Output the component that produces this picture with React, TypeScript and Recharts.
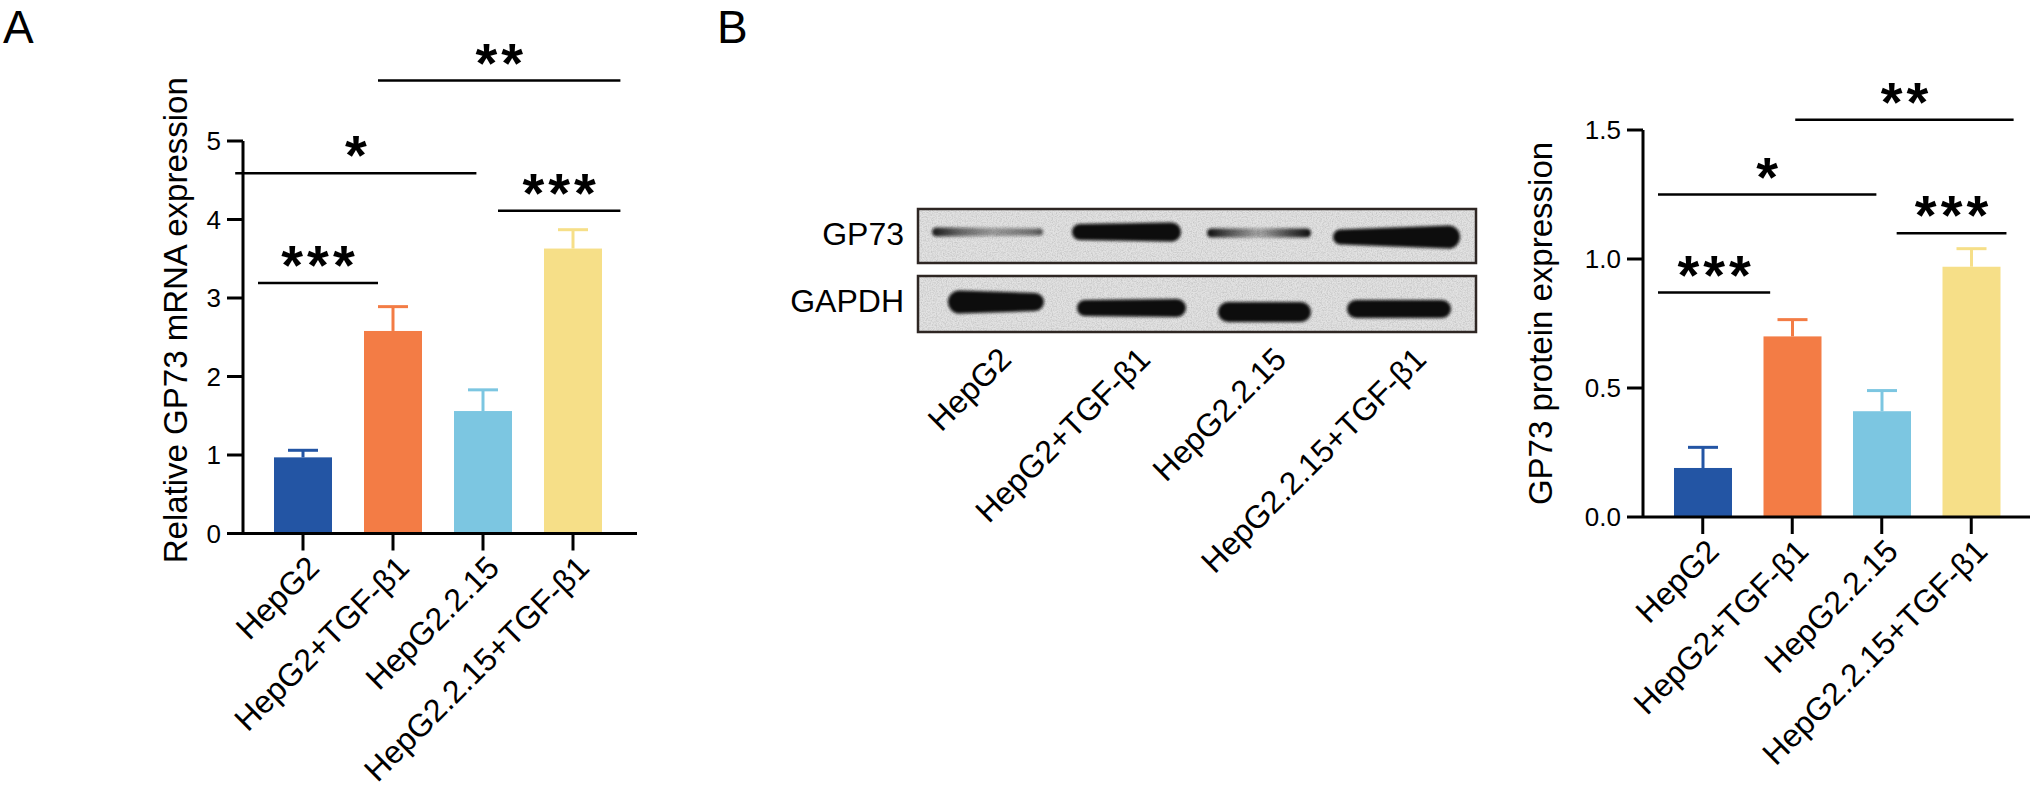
import { BarChart, Bar, XAxis, YAxis, ReferenceLine } from "recharts";

// groups on the x axis of both bar charts and under the blot
const categories = ["HepG2", "HepG2+TGF-β1", "HepG2.2.15", "HepG2.2.15+TGF-β1"];

// A: relative GP73 mRNA expression (mean, upper SD)
const mrnaMean = [0.97, 2.58, 1.56, 3.63];
const mrnaErr = [0.09, 0.31, 0.27, 0.24];
const mrnaTicks = [0, 1, 2, 3, 4, 5];

// B: GP73 protein expression (mean, upper SD)
const proteinMean = [0.19, 0.7, 0.41, 0.97];
const proteinErr = [0.08, 0.065, 0.08, 0.07];
const proteinTicks = [0, 0.5, 1.0, 1.5];

// significance brackets: group index from/to (fractional), height in data units
const mrnaSig = [
  { from: 0, to: 1.0, y: 3.19, mark: "***" },
  { from: -0.19, to: 1.82, y: 4.59, mark: "*" },
  { from: 2, to: 3.02, y: 4.11, mark: "***" },
  { from: 1.0, to: 3.02, y: 5.77, mark: "**" },
];
const proteinSig = [
  { from: 0, to: 0.94, y: 0.87, mark: "***" },
  { from: 0, to: 1.83, y: 1.25, mark: "*" },
  { from: 2, to: 2.92, y: 1.1, mark: "***" },
  { from: 1.15, to: 2.98, y: 1.54, mark: "**" },
];

const barColors = ["#2355a4", "#f37c45", "#7cc6e1", "#f6df88"];
const FONT = '"Liberation Sans", Arial, Helvetica, sans-serif';

const mrnaRows = categories.map((name, i) => ({ name, mean: mrnaMean[i], err: mrnaErr[i] }));
const proteinRows = categories.map((name, i) => ({ name, mean: proteinMean[i], err: proteinErr[i] }));

// bar with an upper-only error bar in the same colour
function BarWithErr(props: any) {
  const { x, y, width, height, index, payload } = props;
  const color = barColors[index % barColors.length];
  const perUnit = payload.mean ? height / payload.mean : 0;
  const top = y - payload.err * perUnit;
  const cx = x + width / 2;
  return (
    <g>
      <rect x={x} y={y} width={width} height={height} fill={color} />
      <line x1={cx} x2={cx} y1={y} y2={top} stroke={color} strokeWidth={3} />
      <line x1={cx - 15} x2={cx + 15} y1={top} y2={top} stroke={color} strokeWidth={3} />
    </g>
  );
}

function StarLabel(props: any) {
  const vb = props.viewBox || {};
  const cx = (vb.x ?? 0) + (vb.width ?? 0) / 2;
  return (
    <text
      x={cx + 2}
      y={(vb.y ?? 0) + 1}
      textAnchor="middle"
      fontFamily={FONT}
      fontWeight="bold"
      fontSize={56}
      letterSpacing={4}
      fill="#000"
    >
      {props.value}
    </text>
  );
}

// 45° label whose top-right corner sits at (x, y)
function SlantText({ x, y, text }: any) {
  return (
    <text
      x={x}
      y={y}
      transform={`rotate(-45 ${x} ${y})`}
      textAnchor="end"
      dy="0.71em"
      fontFamily={FONT}
      fontSize={32}
      fill="#000"
    >
      {text}
    </text>
  );
}

function CatTick(props: any) {
  const { x, y, payload } = props;
  return <SlantText x={x + 2} y={y} text={payload.value} />;
}

function YTitle({ viewBox, text, base, dy }: any) {
  const x = viewBox.x + base;
  const y = viewBox.y + viewBox.height / 2 + dy;
  return (
    <text
      x={x}
      y={y}
      transform={`rotate(-90 ${x} ${y})`}
      textAnchor="middle"
      fontFamily={FONT}
      fontSize={33}
      fill="#000"
    >
      {text}
    </text>
  );
}

const axisStroke = { stroke: "#000", strokeWidth: 3 };

function SigChart({ rows, sig, ticks, domain, title, titleBase, titleDy, width, height, margin, yWidth, pad, fmt }: any) {
  return (
    <BarChart width={width} height={height} data={rows} margin={margin}>
      <XAxis
        xAxisId="cat"
        dataKey="name"
        height={200}
        padding={pad}
        axisLine={axisStroke}
        tickLine={axisStroke}
        tickSize={17}
        tickMargin={3}
        interval={0}
        tick={<CatTick />}
      />
      <XAxis xAxisId="num" type="number" domain={[-0.5, 3.5]} padding={pad} allowDataOverflow hide />
      <YAxis
        width={yWidth}
        domain={domain}
        ticks={ticks}
        interval={0}
        axisLine={axisStroke}
        tickLine={axisStroke}
        tickSize={16}
        tickMargin={6}
        tickFormatter={fmt}
        tick={{ fill: "#000", fontSize: 26, fontFamily: FONT }}
        label={{ content: (p: any) => <YTitle {...p} text={title} base={titleBase} dy={titleDy} /> }}
      />
      <Bar xAxisId="cat" dataKey="mean" barSize={58} isAnimationActive={false} shape={(p: any) => <BarWithErr {...p} />} />
      {sig.map((s: any, i: number) => (
        <ReferenceLine
          key={i}
          xAxisId="num"
          ifOverflow="visible"
          segment={[
            { x: s.from, y: s.y },
            { x: s.to, y: s.y },
          ]}
          stroke="#000"
          strokeWidth={2.5}
          label={{ value: s.mark, content: (p: any) => <StarLabel {...p} /> }}
        />
      ))}
    </BarChart>
  );
}

// western blot picture (not data, drawn as an illustration)
function bandPath(x1: number, x2: number, cy: number, hL: number, hR: number) {
  const rL = hL / 2;
  const rR = hR / 2;
  return `M ${x1 + rL} ${cy - rL} L ${x2 - rR} ${cy - rR} A ${rR} ${rR} 0 0 1 ${x2 - rR} ${cy + rR} L ${x1 + rL} ${cy + rL} A ${rL} ${rL} 0 0 1 ${x1 + rL} ${cy - rL} Z`;
}

function Blot() {
  const boxX = 918;
  const boxW = 558;
  const laneEnds = [997, 1136, 1272, 1412];
  return (
    <svg width={2034} height={789} style={{ position: "absolute", left: 0, top: 0, pointerEvents: "none" }}>
      <defs>
        <filter id="blur" x="-20%" y="-100%" width="140%" height="300%">
          <feGaussianBlur stdDeviation="1.6" />
        </filter>
        <filter id="grain" x="0" y="0" width="100%" height="100%">
          <feTurbulence type="fractalNoise" baseFrequency="0.8" numOctaves="2" seed="4" />
          <feColorMatrix type="matrix" values="0 0 0 0 0.35  0 0 0 0 0.35  0 0 0 0 0.35  0.9 0 0 0 -0.33" />
        </filter>
        <linearGradient id="faint1" x1="0" x2="1" y1="0" y2="0">
          <stop offset="0" stopColor="#111" stopOpacity="0.95" />
          <stop offset="0.25" stopColor="#111" stopOpacity="0.6" />
          <stop offset="0.55" stopColor="#111" stopOpacity="0.35" />
          <stop offset="0.9" stopColor="#111" stopOpacity="0.55" />
          <stop offset="1" stopColor="#111" stopOpacity="0.7" />
        </linearGradient>
        <linearGradient id="faint3" x1="0" x2="1" y1="0" y2="0">
          <stop offset="0" stopColor="#111" stopOpacity="1" />
          <stop offset="0.2" stopColor="#111" stopOpacity="0.7" />
          <stop offset="0.5" stopColor="#111" stopOpacity="0.3" />
          <stop offset="0.8" stopColor="#111" stopOpacity="0.75" />
          <stop offset="1" stopColor="#111" stopOpacity="1" />
        </linearGradient>
      </defs>
      {[
        [209, 54],
        [276, 56],
      ].map(([y, h], i) => (
        <g key={i}>
          <rect x={boxX} y={y} width={boxW} height={h} fill="#e2e2e2" />
          <rect x={boxX} y={y} width={boxW} height={h} filter="url(#grain)" />
        </g>
      ))}
      <g filter="url(#blur)">
        <path d={bandPath(932, 1043, 232, 9, 7)} fill="url(#faint1)" />
        <path d={bandPath(1072, 1181, 232, 16, 19)} fill="#0c0c0c" />
        <path d={bandPath(1207, 1311, 233, 9, 9)} fill="url(#faint3)" />
        <path d={bandPath(1333, 1460, 237, 15, 23)} fill="#0c0c0c" />
        <path d={bandPath(948, 1044, 302, 23, 18)} fill="#0c0c0c" />
        <path d={bandPath(1077, 1186, 308, 16, 18)} fill="#0c0c0c" />
        <path d={bandPath(1218, 1311, 312, 20, 20)} fill="#0c0c0c" />
        <path d={bandPath(1347, 1451, 309, 18, 18)} fill="#0c0c0c" />
      </g>
      <rect x={boxX} y={209} width={boxW} height={54} fill="none" stroke="#2e2623" strokeWidth={2.5} />
      <rect x={boxX} y={276} width={boxW} height={56} fill="none" stroke="#2e2623" strokeWidth={2.5} />
      <text x={904} y={245} textAnchor="end" fontFamily={FONT} fontSize={32} fill="#000">
        GP73
      </text>
      <text x={904} y={312} textAnchor="end" fontFamily={FONT} fontSize={32} fill="#000">
        GAPDH
      </text>
      {categories.map((c, i) => (
        <SlantText key={c} x={laneEnds[i]} y={345} text={c} />
      ))}
      <text x={3} y={43} fontFamily={FONT} fontSize={46} fill="#000">
        A
      </text>
      <text x={717} y={43} fontFamily={FONT} fontSize={46} fill="#000">
        B
      </text>
    </svg>
  );
}

export default function App() {
  return (
    <div style={{ position: "absolute", left: 0, top: 0, width: 2034, height: 789, background: "#fff", fontFamily: FONT }}>
      <div style={{ position: "absolute", left: 0, top: 0 }}>
        <SigChart
          rows={mrnaRows}
          sig={mrnaSig}
          ticks={mrnaTicks}
          domain={[0, 5]}
          title="Relative GP73 mRNA expression"
          titleBase={187}
          titleDy={-17}
          width={660}
          height={789}
          margin={{ top: 141, right: 23, bottom: 55.5, left: 0 }}
          yWidth={243}
          pad={{ left: 15, right: 19 }}
          fmt={(v: number) => String(v)}
        />
      </div>
      <div style={{ position: "absolute", left: 1500, top: 0 }}>
        <SigChart
          rows={proteinRows}
          sig={proteinSig}
          ticks={proteinTicks}
          domain={[0, 1.5]}
          title="GP73 protein expression"
          titleBase={52}
          titleDy={0}
          width={534}
          height={789}
          margin={{ top: 130, right: 4, bottom: 72, left: 0 }}
          yWidth={143}
          pad={{ left: 15, right: 14 }}
          fmt={(v: number) => v.toFixed(1)}
        />
      </div>
      <Blot />
    </div>
  );
}
